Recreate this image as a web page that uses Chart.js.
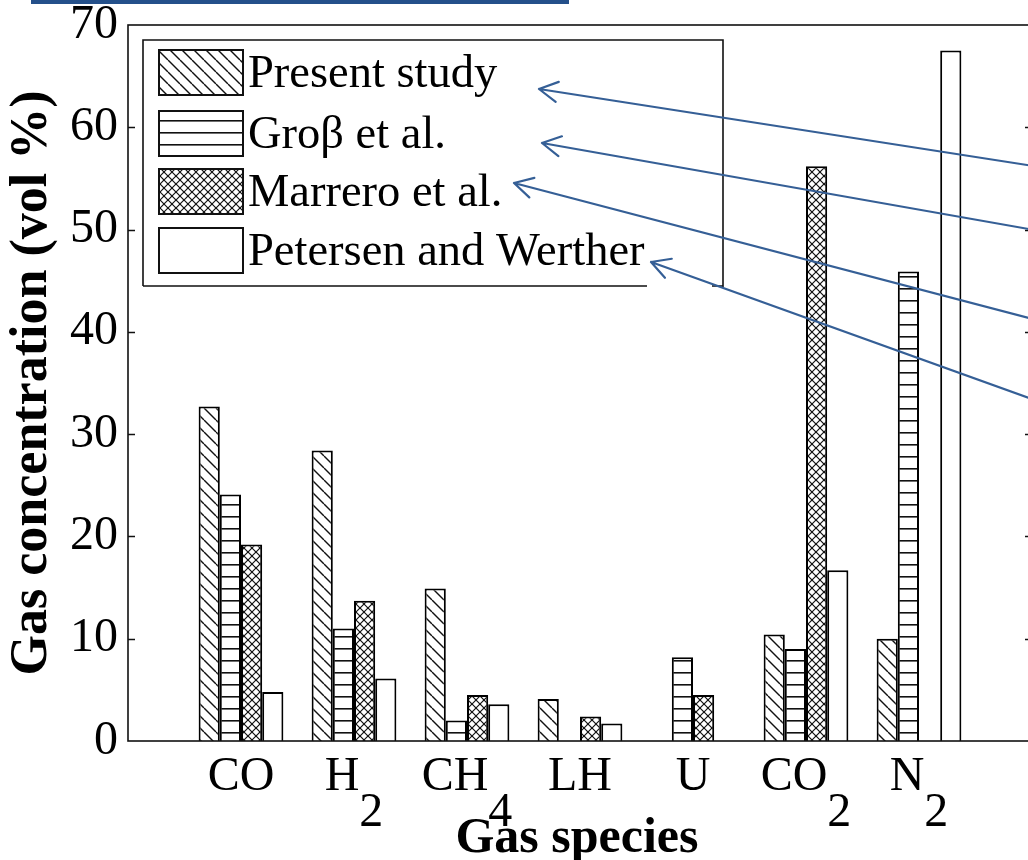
<!DOCTYPE html>
<html>
<head>
<meta charset="utf-8">
<script src="https://cdn.jsdelivr.net/npm/chart.js@4"></script>
<style>
  html, body { margin: 0; padding: 0; overflow: hidden; background: #fff; }
  #topbar { position: absolute; left: 31px; top: 0; width: 538px; height: 4px; background: #24508a; }
  #wrap { position: absolute; left: 0; top: 0; }
</style>
</head>
<body>
<div id="wrap"><canvas id="chart" width="1040" height="860"></canvas></div>
<div id="topbar"></div>
<script>
// values (vol %), null = no bar
const CATEGORIES = ['CO', 'H2', 'CH4', 'LH', 'U', 'CO2', 'N2'];
const PRESENT_STUDY = [32.7, 28.4, 14.9, 4.1, null, 10.4, 10.0];
const GROSS = [24.1, 11.0, 2.0, null, 8.2, 9.0, 45.9];
const MARRERO = [19.2, 13.7, 4.5, 2.4, 4.5, 56.2, null];
const PETERSEN = [4.8, 6.1, 3.6, 1.7, null, 16.7, 67.5];
const SERIES_NAMES = ['Present study', 'Groβ et al.', 'Marrero et al.', 'Petersen and Werther'];
const Y_MIN = 0, Y_MAX = 70, Y_STEP = 10;

const FONT = "'Liberation Serif', 'Times New Roman', serif";
const INK = '#111';

function makePattern(kind) {
    const c = document.createElement('canvas');
    const g = c.getContext('2d');
    if (kind === 'diag') {
        const s = 12;
        c.width = s; c.height = s;
        g.fillStyle = '#fff'; g.fillRect(0, 0, s, s);
        g.strokeStyle = INK; g.lineWidth = 1.4;
        [-s, 0, s].forEach(k => {
            g.beginPath(); g.moveTo(k, 0); g.lineTo(k + s, s); g.stroke();
        });
    } else if (kind === 'horiz') {
        c.width = 8; c.height = 12;
        g.fillStyle = '#fff'; g.fillRect(0, 0, 8, 12);
        g.fillStyle = INK; g.fillRect(0, 0, 8, 1.6);
    } else if (kind === 'cross') {
        const s = 8;
        c.width = s; c.height = s;
        g.fillStyle = '#fff'; g.fillRect(0, 0, s, s);
        g.strokeStyle = INK; g.lineWidth = 1.2;
        [-s, 0, s].forEach(k => {
            g.beginPath(); g.moveTo(k, 0); g.lineTo(k + s, s); g.stroke();
            g.beginPath(); g.moveTo(k, s); g.lineTo(k + s, 0); g.stroke();
        });
    } else {
        c.width = 4; c.height = 4;
        g.fillStyle = '#fff'; g.fillRect(0, 0, 4, 4);
    }
    return g.createPattern(c, 'repeat');
}

const ctx = document.getElementById('chart').getContext('2d');
const FILLS = [makePattern('diag'), makePattern('horiz'), makePattern('cross'), makePattern('none')];
const pad = arr => [null, ...arr, null];

// frame, inward ticks, x labels with lowered subscripts, legend and blue arrows
const decorations = {
    id: 'decorations',
    afterDraw(chart) {
        const c = chart.ctx;
        const { left, right, top, bottom } = chart.chartArea;
        const y = chart.scales.y;
        const x = chart.scales.x;
        c.save();

        c.strokeStyle = INK;
        c.lineWidth = 1.6;
        c.strokeRect(left, top, right - left, bottom - top);
        for (let v = Y_MIN + Y_STEP; v < Y_MAX; v += Y_STEP) {
            const py = Math.round(y.getPixelForValue(v)) + 0.5;
            c.beginPath();
            c.moveTo(left, py); c.lineTo(left + 7, py);
            c.moveTo(right, py); c.lineTo(right - 7, py);
            c.stroke();
        }

        c.fillStyle = '#000';
        c.textBaseline = 'alphabetic';
        c.textAlign = 'left';
        c.font = `48px ${FONT}`;
        CATEGORIES.forEach((lab, i) => {
            const m = lab.match(/^(.*?)(\d*)$/);
            const main = m[1], sub = m[2];
            const w = c.measureText(main).width + c.measureText(sub).width;
            const cx = x.getPixelForValue(i + 1);
            const x0 = cx - w / 2;
            c.fillText(main, x0, 790);
            if (sub) c.fillText(sub, x0 + c.measureText(main).width, 826);
        });
        c.font = `bold 50px ${FONT}`;
        c.textAlign = 'center';
        c.fillText('Gas species', 577, 852);

        // legend
        c.fillStyle = '#fff';
        c.fillRect(143, 40, 580, 246);
        c.strokeStyle = INK;
        c.lineWidth = 1.6;
        c.beginPath();
        c.moveTo(143, 286); c.lineTo(143, 40); c.lineTo(723, 40); c.lineTo(723, 287);
        c.moveTo(143, 286); c.lineTo(647, 286);
        c.moveTo(712, 286); c.lineTo(723, 286);
        c.stroke();
        const swatchTops = [50, 111, 169, 228];
        c.font = `46.5px ${FONT}`;
        c.textAlign = 'left';
        c.textBaseline = 'middle';
        SERIES_NAMES.forEach((name, i) => {
            const t = swatchTops[i];
            c.fillStyle = FILLS[i];
            c.fillRect(159, t, 84, 45);
            c.lineWidth = 2;
            c.strokeStyle = INK;
            c.strokeRect(159, t, 84, 45);
            c.fillStyle = '#000';
            c.fillText(name, 248, t + 25);
        });

        // arrows from the right edge to the legend entries
        const arrows = [
            { tip: [539, 89], tail: [1040, 167] },
            { tip: [542, 143], tail: [1040, 231] },
            { tip: [514, 183], tail: [1040, 321] },
            { tip: [651, 262], tail: [1040, 402] }
        ];
        c.strokeStyle = '#355f96';
        c.lineWidth = 2.2;
        c.lineCap = 'round';
        arrows.forEach(a => {
            const [tx, ty] = a.tip, [sx, sy] = a.tail;
            const ang = Math.atan2(sy - ty, sx - tx);
            c.beginPath();
            c.moveTo(sx, sy); c.lineTo(tx, ty);
            [0.5, -0.5].forEach(d => {
                c.moveTo(tx, ty);
                c.lineTo(tx + 21 * Math.cos(ang + d), ty + 21 * Math.sin(ang + d));
            });
            c.stroke();
        });
        c.restore();
    }
};

new Chart(ctx, {
    type: 'bar',
    data: {
        labels: pad(CATEGORIES.map(() => '')),
        datasets: [PRESENT_STUDY, GROSS, MARRERO, PETERSEN].map((vals, i) => ({
            label: SERIES_NAMES[i],
            data: pad(vals),
            backgroundColor: FILLS[i],
            borderColor: '#000',
            borderWidth: 2,
            borderSkipped: 'bottom',
            barPercentage: 1,
            categoryPercentage: 0.75
        }))
    },
    options: {
        responsive: false,
        animation: false,
        layout: { padding: { top: 25, right: 8, left: 0, bottom: 0 } },
        plugins: { legend: { display: false }, tooltip: { enabled: false } },
        scales: {
            x: {
                offset: false,
                grid: { display: false },
                border: { display: false },
                ticks: { display: false },
                afterFit: s => { s.height = 119; }
            },
            y: {
                min: Y_MIN,
                max: Y_MAX,
                grid: { display: false },
                border: { display: false },
                ticks: {
                    stepSize: Y_STEP,
                    padding: 2,
                    color: '#000',
                    font: { family: FONT, size: 48 }
                },
                title: {
                    display: true,
                    text: 'Gas concentration (vol %)',
                    color: '#000',
                    padding: { top: 1, bottom: 0 },
                    font: { family: FONT, size: 52, weight: 'bold', lineHeight: 1.2 }
                },
                afterFit: s => {
                    s.width = 128;
                    s.paddingTop = 0;
                    s.paddingBottom = 0;
                }
            }
        }
    },
    plugins: [decorations]
});
</script>
</body>
</html>
